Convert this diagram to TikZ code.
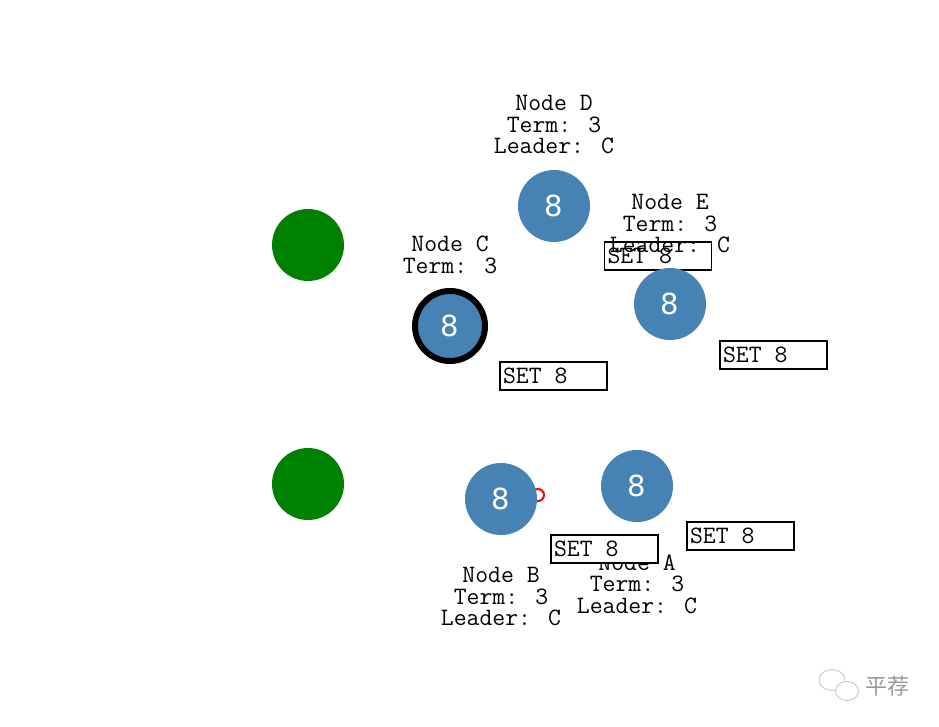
\documentclass[tikz,border=0pt]{standalone}
\usepackage{fontspec}
\newfontfamily\numfont{DejaVu Sans}
\newfontfamily\cjkfont{Noto Sans CJK SC}
\definecolor{peerblue}{HTML}{4682B4}
\definecolor{peergreen}{HTML}{008000}
\tikzset{
  peer/.style={circle, fill=peerblue, minimum size=72pt, inner sep=0pt,
    text=white, font=\numfont\fontsize{29}{29}\selectfont},
  leaderpeer/.style={peer, draw=black, line width=6pt, minimum size=70pt},
  client/.style={circle, fill=peergreen, minimum size=72pt, inner sep=0pt},
  info/.style={align=center, inner sep=0pt,
    font=\ttfamily\fontsize{25}{21.5}\selectfont},
  setbox/.style={draw=black, fill=white, line width=1.4pt, text width=101pt,
    inner xsep=3pt, inner ysep=0pt, minimum height=28pt, align=left,
    font=\ttfamily\fontsize{25}{21.5}\selectfont}
}
\begin{document}
\begin{tikzpicture}[x=1pt, y=-1pt]
    \useasboundingbox (0,0) rectangle (939,727);
    % clients
    \node[client] (clienttop) at (308,245) {};
    \node[client] (clientbot) at (308,484) {};
    % peers
    \node[peer] (peerd) at (554,206) {8};
    \node[info] (infod) at (554,125) {Node D\\Term: 3\\Leader: C};
    \node[leaderpeer] (peerc) at (450,326) {8};
    \node[info] (infoc) at (450,255) {Node C\\Term: 3};
    \node[setbox] (sete) at (658,256) {SET\hspace{13pt}8};
    \node[peer] (peere) at (670,304) {8};
    \node[info] (infoe) at (670,224) {Node E\\Term: 3\\Leader: C};
    \node[setbox] (setc) at (553.5,376) {SET\hspace{13pt}8};
    \node[setbox] (setd) at (773.5,355) {SET\hspace{13pt}8};
    % vote reply
    \node[circle, draw=red, line width=2pt, minimum size=12pt, inner sep=0pt] (vote) at (538,495) {};
    \node[peer] (peerb) at (501,499) {8};
    \node[info] (infob) at (501,597) {Node B\\Term: 3\\Leader: C};
    \node[peer] (peera) at (637,486) {8};
    \node[info] (infoa) at (637,584) {Node A\\Term: 3\\Leader: C};
    \node[setbox] (setb) at (604.5,549) {SET\hspace{13pt}8};
    \node[setbox] (seta) at (740.5,536) {SET\hspace{13pt}8};
    % watermark
    \draw[gray!55, line width=0.7pt] (832,680) ellipse (13pt and 10.5pt);
    \draw[gray!55, line width=0.7pt, fill=white] (847,691) ellipse (11.5pt and 9.5pt);
    \node[text=gray!80, font=\cjkfont\fontsize{22}{22}\selectfont, inner sep=0pt] (mark) at (887,686) {平荐};
\end{tikzpicture}
\end{document}
